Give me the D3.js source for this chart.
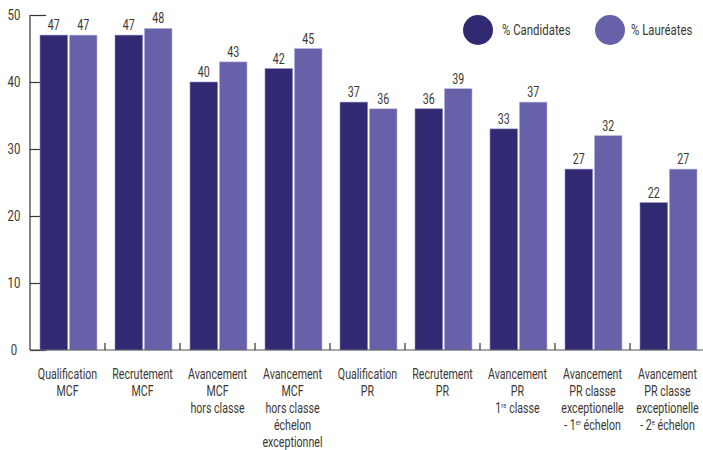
<!DOCTYPE html>
<html><head><meta charset="utf-8">
<script src="https://cdn.jsdelivr.net/npm/d3@7/dist/d3.min.js"></script>
<style>
body{margin:0;background:#fff;}
text{font-family:"Roboto","Liberation Sans",sans-serif;fill:#3b3631;}
</style></head>
<body><svg id="c" width="703" height="450"></svg>
<script>
const categories = [
  ["Qualification","MCF"],
  ["Recrutement","MCF"],
  ["Avancement","MCF","hors classe"],
  ["Avancement","MCF","hors classe","échelon","exceptionnel"],
  ["Qualification","PR"],
  ["Recrutement","PR"],
  ["Avancement","PR","1|re| classe"],
  ["Avancement","PR classe","exceptionelle","- 1|er| échelon"],
  ["Avancement","PR classe","exceptionelle","- 2|e| échelon"]
];
const seriesNames = ["% Candidates","% Lauréates"];
const candidates = [47,47,40,42,37,36,33,27,22];
const laureates = [47,48,43,45,36,39,37,32,27];
const yTicks = [0,10,20,30,40,50];
const colors = ["#312a72","#6661a9"];
const SX = 0.76;

const svg = d3.select("#c");
const x0 = d3.scaleBand().domain(d3.range(categories.length)).range([30,705]);
const x1 = d3.scaleBand().domain([0,1]).range([10,67]).paddingInner(0.06);
const y = d3.scaleLinear().domain([0,50]).range([350,15]);
const series = [candidates, laureates];

function ctext(parent, x, yy){
  return parent.append("g").attr("transform",`translate(${x},${yy}) scale(${SX},1)`).append("text");
}

// y axis
const ya = svg.append("g").attr("transform","translate(30,0)")
  .call(d3.axisRight(y).tickValues(yTicks).tickSize(16).tickFormat(""));
ya.select(".domain").attr("d","M0,15V350").attr("stroke","#333").attr("stroke-width",1.2);
ya.selectAll(".tick line").attr("stroke","#333").attr("stroke-width",1.2);
yTicks.forEach(d=>{
  ctext(svg,14,y(d)).attr("dy","0.36em").attr("text-anchor","middle").style("font-size","15px").text(d);
});

// bars
const g = svg.append("g");
series.forEach((vals,si)=>{
  g.selectAll(".b"+si).data(vals).join("rect")
    .attr("x",(d,i)=>x0(i)+x1(si)).attr("width",x1.bandwidth())
    .attr("y",d=>y(d)).attr("height",d=>y(0)-y(d))
    .attr("fill",colors[si]).attr("stroke",si? "#b9b6da":"#8f8bc0").attr("stroke-width",0.6);
  vals.forEach((d,i)=>{
    ctext(g, x0(i)+x1(si)+x1.bandwidth()/2, y(d)-5)
      .attr("text-anchor","middle").style("font-size","14px").text(d);
  });
});

// x axis
const xa = svg.append("g").attr("transform","translate(0,350)");
xa.append("line").attr("x1",30).attr("x2",703).attr("y1",0).attr("y2",0).attr("stroke","#555").attr("stroke-width",1.2);
xa.selectAll(".t").data(d3.range(1,categories.length)).join("line")
  .attr("x1",d=>x0(d)).attr("x2",d=>x0(d)).attr("y1",0).attr("y2",-7)
  .attr("stroke","#333").attr("stroke-width",1.2);

// category labels
categories.forEach((lines,i)=>{
  const t = ctext(svg, x0(i)+x0.bandwidth()/2, 0).attr("text-anchor","middle").style("font-size","14px");
  lines.forEach((ln,j)=>{
    const ts = t.append("tspan").attr("x",0).attr("y",379+j*17);
    const parts = ln.split("|");
    parts.forEach((p,k)=>{
      const s = ts.append("tspan").text(p);
      if(k%2===1){ s.style("font-size","8px").attr("dy","-5"); }
      else if(k>0){ s.attr("dy","5"); }
    });
  });
});

// legend
const leg = [[478,502],[610,631]];
seriesNames.forEach((n,i)=>{
  svg.append("circle").attr("cx",leg[i][0]).attr("cy",30).attr("r",15).attr("fill",colors[i]);
  ctext(svg,leg[i][1],30).attr("dy","0.36em").style("font-size","15px").text(n);
});
</script></body></html>
